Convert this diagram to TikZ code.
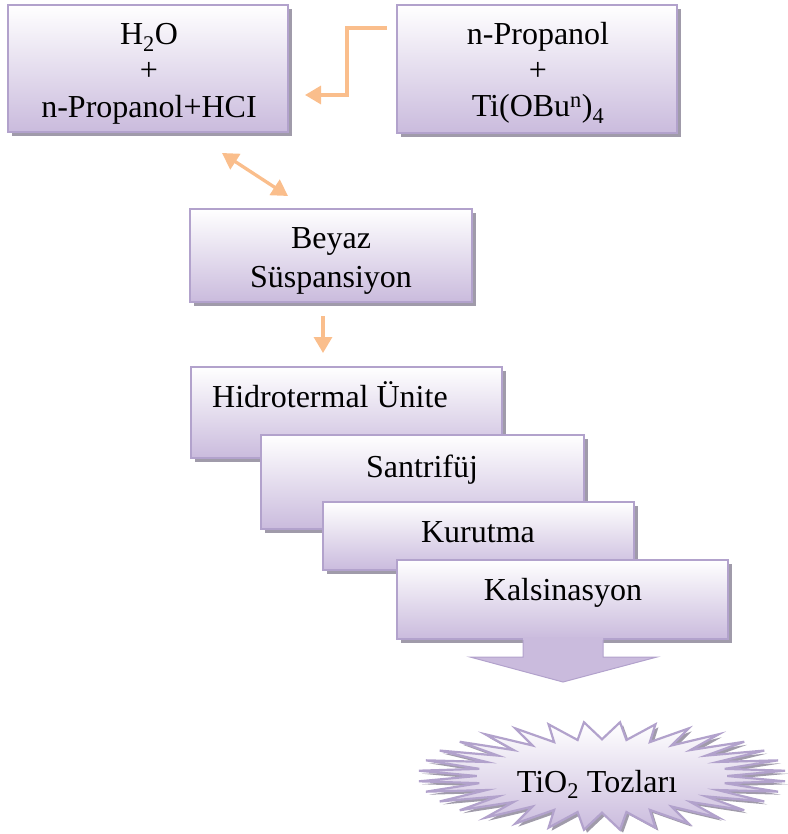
\documentclass[tikz,border=0pt]{standalone}
\usepackage{fontspec}
\setmainfont{Liberation Serif}
\usetikzlibrary{arrows.meta,shadows}
\definecolor{boxline}{RGB}{178,162,204}
\definecolor{boxbot}{RGB}{202,187,221}
\definecolor{shadowgray}{RGB}{160,155,170}
\definecolor{peach}{RGB}{250,190,140}
\tikzset{
  procbox/.style={draw=boxline, line width=2.5pt, rectangle, inner sep=0pt, outer sep=0pt,
    top color=white, bottom color=boxbot,
    drop shadow={shadow xshift=4pt, shadow yshift=-4pt, fill=shadowgray, opacity=1}},
  txt/.style={inner sep=0pt, anchor=base, font=\fontsize{32}{37}\selectfont, text=black},
  conn/.style={draw=peach, line width=3.3pt, -{Triangle[length=16pt,width=18pt]}},
  dconn/.style={draw=peach, line width=3.3pt, {Triangle[length=16pt,width=18pt]}-{Triangle[length=16pt,width=18pt]}},
}
\begin{document}
\begin{tikzpicture}[x=1pt,y=-1pt]
\useasboundingbox (0,0) rectangle (787,834);

% top boxes
\node[procbox, minimum width=280pt, minimum height=127pt] (b1) at (148,68.5) {};
\node[txt] (t1a) at (149,45) {H\textsubscript{2}O};
\node[txt] (t1b) at (149,81) {+};
\node[txt] (t1c) at (149,118) {n-Propanol+HCI};

\node[procbox, minimum width=280pt, minimum height=128pt] (b2) at (537,69) {};
\node[txt] (t2a) at (538,45) {n-Propanol};
\node[txt] (t2b) at (538,81) {+};
\node[txt] (t2c) at (538,117) {Ti(OBu\textsuperscript{n})\textsubscript{4}};

% elbow arrow
\coordinate (e1) at (387,28);
\coordinate (e2) at (305,95);
\draw[conn] (e1) -- (347,28) |- (e2);

% double arrow
\coordinate (d1) at (222,153);
\coordinate (d2) at (288,196);
\draw[dconn] (d1) -- (d2);

% Beyaz box
\node[procbox, minimum width=282pt, minimum height=93pt] (b3) at (331,255.5) {};
\node[txt] (t3a) at (331,248) {Beyaz};
\node[txt] (t3b) at (331,287) {Süspansiyon};

% down arrow
\coordinate (a1) at (323,316);
\coordinate (a2) at (323,353);
\draw[conn] (a1) -- (a2);

% staggered boxes
\node[procbox, minimum width=311pt, minimum height=91pt] (s1) at (346.5,412.5) {};
\node[txt, anchor=base west] (st1) at (212,407) {Hidrotermal Ünite};

\node[procbox, minimum width=323pt, minimum height=94pt] (s2) at (422.5,482) {};
\node[txt] (st2) at (422,477) {Santrifüj};

\node[procbox, minimum width=311pt, minimum height=68pt] (s3) at (478.5,536) {};
\node[txt] (st3) at (478,542) {Kurutma};

\node[procbox, minimum width=331pt, minimum height=79pt] (s4) at (562.5,599.5) {};
\node[txt] (st4) at (563,600) {Kalsinasyon};

% block arrow
\fill[boxbot] (523,637) -- (523,657) -- (470,657) -- (563,682) -- (657,657) -- (603,657) -- (603,637) -- cycle;
\draw[boxline, line width=1pt] (523,640) -- (523,657) -- (470,657) -- (563,682) -- (657,657) -- (603,657) -- (603,640);

% starburst
\path[draw=boxline, line width=2.2pt, top color=white, bottom color=boxbot,
      drop shadow={shadow xshift=3pt, shadow yshift=-3pt, fill=shadowgray, opacity=1}]
  plot[variable=\t, samples=65, domain=5.625:365.625]
  ({602+184*(0.84+0.16*cos(32*(\t-5.625)))*cos(\t)}, {776+54*(0.84+0.16*cos(32*(\t-5.625)))*sin(\t)}) -- cycle;
\node[txt] (star) at (597,792) {TiO\textsubscript{2} Tozları};
\end{tikzpicture}
\end{document}
